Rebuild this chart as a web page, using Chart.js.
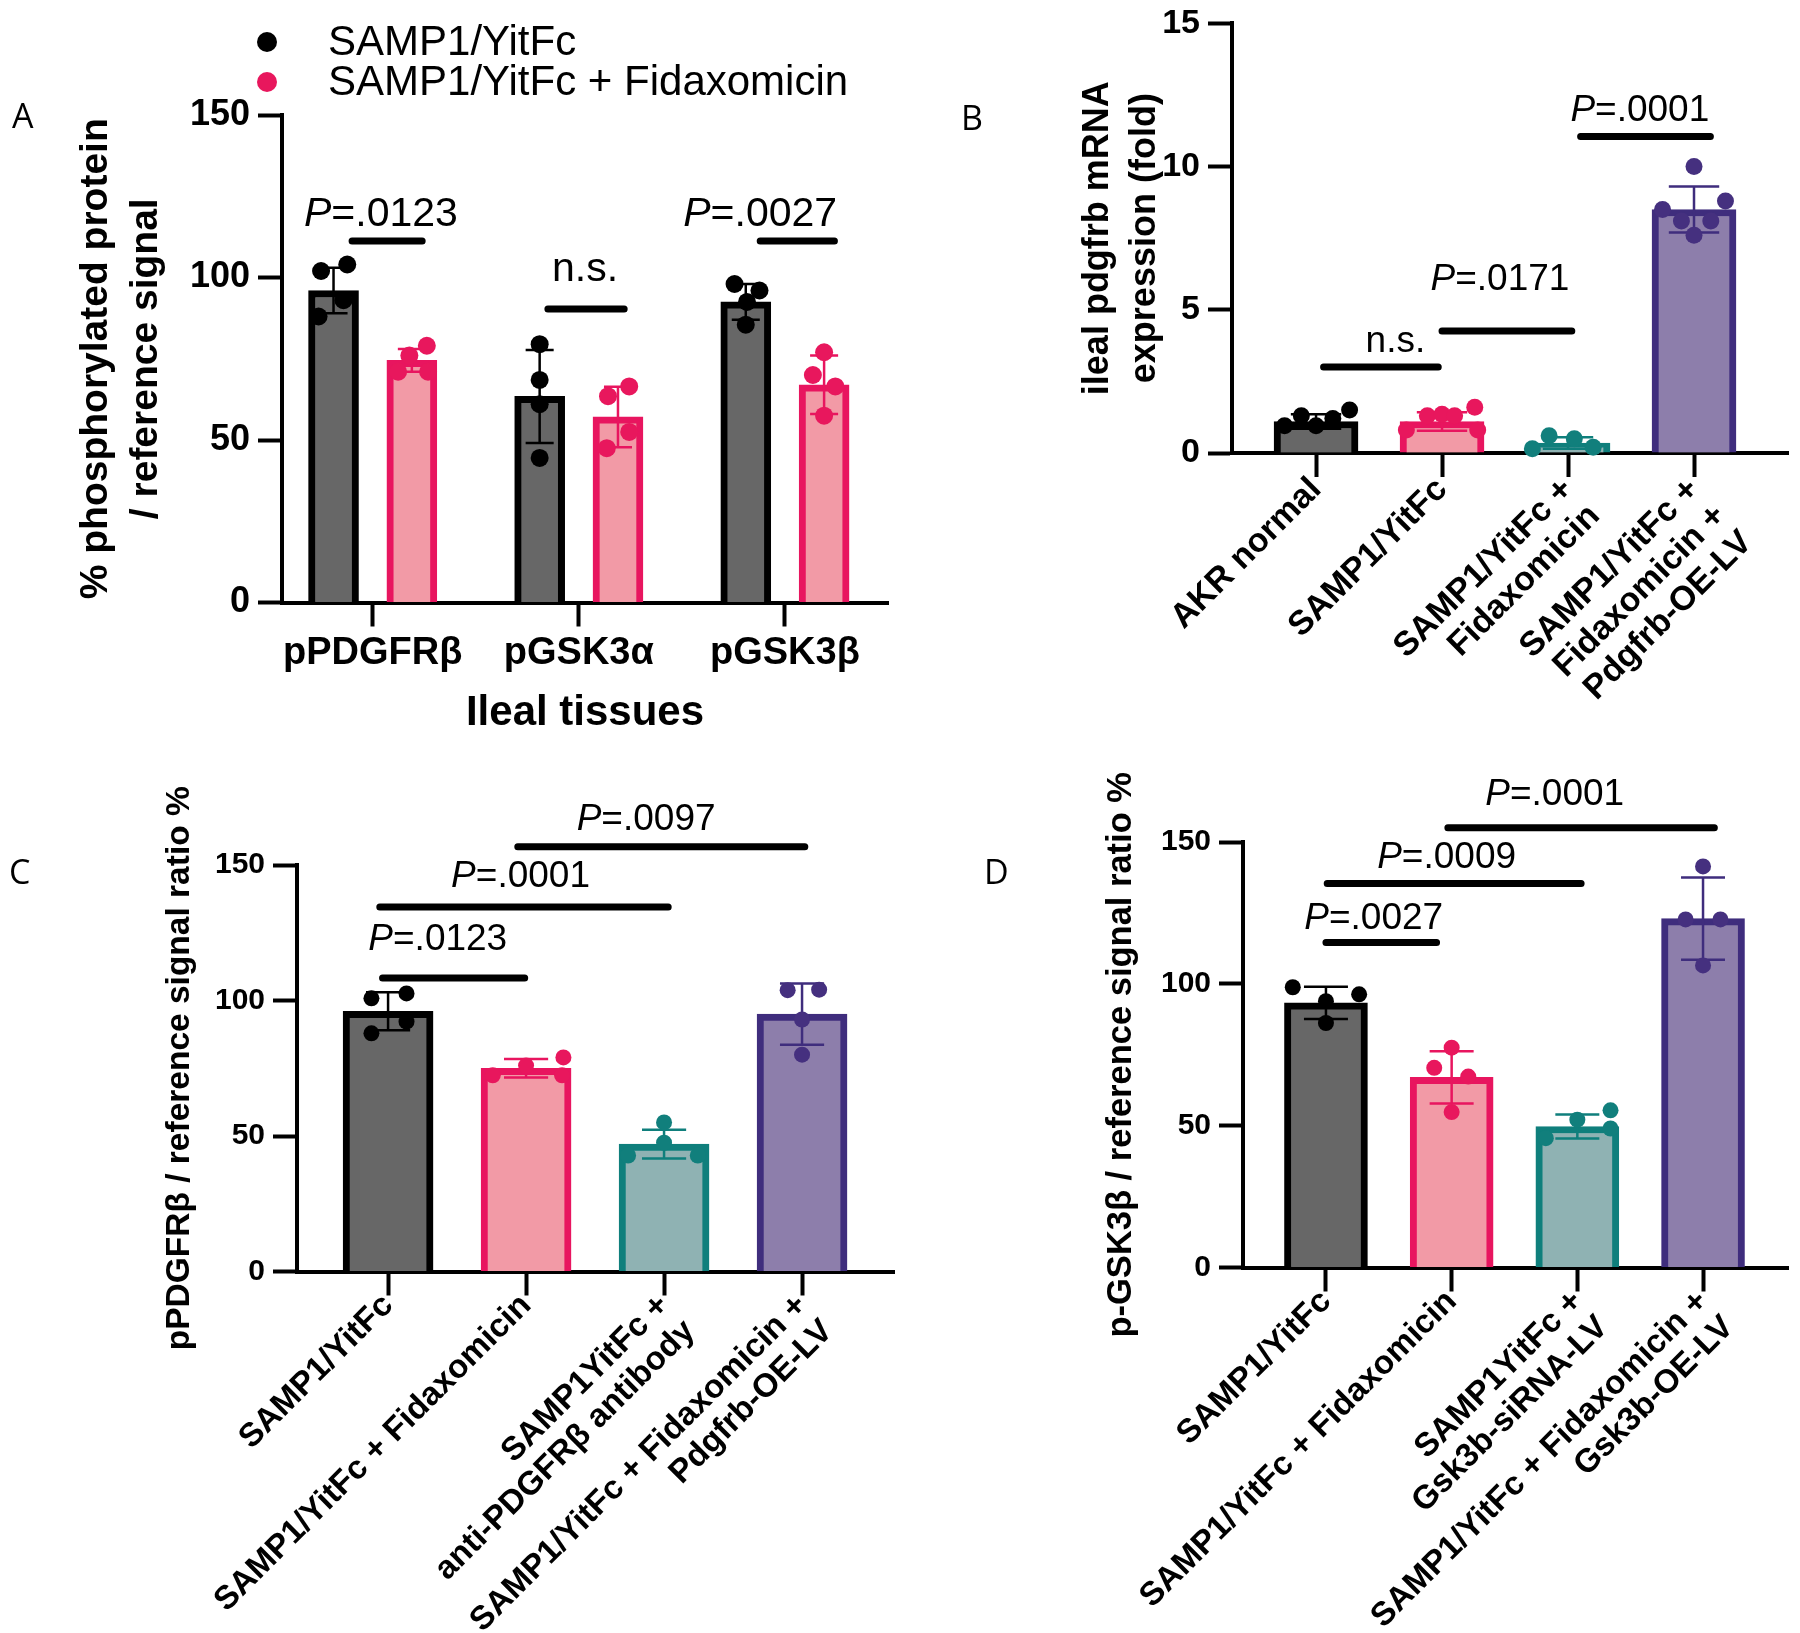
<!DOCTYPE html>
<html>
<head>
<meta charset="utf-8">
<script src="https://cdn.jsdelivr.net/npm/chart.js@4.4.1/dist/chart.umd.min.js"></script>
<style>
  html, body { margin: 0; padding: 0; background: #fff; }
  #wrap { position: relative; width: 1800px; height: 1633px; }
  #wrap canvas { position: absolute; left: 0; top: 0; }
</style>
</head>
<body>
<div id="wrap">
  <canvas id="chartA" width="1800" height="1633"></canvas>
  <canvas id="chartB" width="1800" height="1633"></canvas>
  <canvas id="chartC" width="1800" height="1633"></canvas>
  <canvas id="chartD" width="1800" height="1633"></canvas>
</div>
<script>
// ---- Panel A: two series per tissue ----
const aCats = ['pPDGFRβ', 'pGSK3α', 'pGSK3β'];
const aSeries = ['SAMP1/YitFc', 'SAMP1/YitFc + Fidaxomicin'];
const aMeanCtl = [96, 63.4, 92.5];
const aMeanFdx = [74.5, 57.1, 67];
const aSdCtl = [7, 14.3, 5.5];
const aSdFdx = [3.5, 9.3, 9];
const aPtsCtl = [[102, 104, 93, 88], [79.5, 68.5, 61, 44.5], [98, 96, 92.5, 85.5]];
const aPtsFdx = [[76, 79, 71, 71], [66.5, 52.5, 47.5, 63.5], [77, 70, 66.5, 57.5]];
const aJitCtl = [[-0.5, 0.55, 0.4, -0.6], [0, 0, 0, 0], [-0.45, 0.55, 0.05, 0]];
const aJitFdx = [[-0.1, 0.6, -0.55, 0.65], [0.45, 0.45, -0.45, -0.4], [0, -0.45, 0.45, 0]];
const aSigLines = [[-0.1, 0.24, 111.2], [0.85, 1.22, 90.3], [1.88, 2.24, 111.2]];
const aSigText = ['P=.0123', 'n.s.', 'P=.0027'];
const aSigPos = [[0.04, 115.7], [1.03, 99], [1.88, 115.7]];

// ---- Panel B ----
const bCats = ['AKR normal', 'SAMP1/YitFc', ['SAMP1/YitFc +', 'Fidaxomicin'],
  ['SAMP1/YitFc +', 'Fidaxomicin +', 'Pdgfrb-OE-LV']];
const bMean = [1.1, 1.1, 0.35, 8.5];
const bSd = [0.25, 0.32, 0.2, 0.8];
const bPts = [[0.95, 1.3, 0.95, 1.2, 1.5], [0.8, 1.3, 1.35, 1.3, 0.8, 1.6],
  [0.6, 0.5, 0.15, 0.2], [10.0, 8.8, 8.5, 8.1, 8.1, 7.6]];
const bJit = [[-0.75, -0.35, 0, 0.4, 0.8], [-0.85, -0.35, 0, 0.3, 0.85, 0.78],
  [-0.45, 0.15, -0.85, 0.6], [0, 0.75, -0.75, -0.3, 0.4, 0]];
const bSigLines = [[0.06, 0.97, 3.0], [1.0, 2.03, 4.26], [2.1, 3.13, 11.05]];
const bSigText = ['n.s.', 'P=.0171', 'P=.0001'];
const bSigPos = [[0.63, 3.54], [1.46, 5.7], [2.57, 11.6]];

// ---- Panel C ----
const cCats = ['SAMP1/YitFc', 'SAMP1/YitFc + Fidaxomicin', ['SAMP1YitFc +', 'anti-PDGFRβ antibody'],
  ['SAMP1/YitFc + Fidaxomicin +', 'Pdgfrb-OE-LV']];
const cMean = [96, 75, 47, 95];
const cSd = [7, 3.4, 5.3, 11.3];
const cPts = [[100.8, 102.6, 92.2, 87.9], [79, 76, 72.4, 72.4], [55, 47.5, 42.8, 42.8], [103.8, 104, 93, 80]];
const cJit = [[-0.37, 0.41, 0.41, -0.37], [0.83, 0, -0.74, 0.8], [0, 0, -0.8, 0.75], [-0.32, 0.38, 0, 0]];
const cSigLines = [[-0.04, 0.99, 108.3], [-0.06, 2.03, 134.5], [0.94, 3.02, 156.7]];
const cSigText = ['P=.0123', 'P=.0001', 'P=.0097'];
const cSigPos = [[0.36, 118.6], [0.96, 142], [1.87, 163]];

// ---- Panel D ----
const dCats = ['SAMP1/YitFc', 'SAMP1/YitFc + Fidaxomicin', ['SAMP1YitFc +', 'Gsk3b-siRNA-LV'],
  ['SAMP1/YitFc + Fidaxomicin +', 'Gsk3b-OE-LV']];
const dMean = [93.3, 67, 49.7, 123];
const dSd = [5.7, 9.2, 4.2, 14.5];
const dPts = [[98.8, 93.9, 96.3, 86.2], [77.5, 70.4, 67.3, 54.8], [55.4, 52.1, 49, 45.6], [141.4, 122.7, 122.7, 106.5]];
const dJit = [[-0.8, 0, 0.8, 0], [0, -0.42, 0.4, 0], [0.8, 0, 0.8, -0.76], [0, -0.42, 0.42, 0]];
const dSigLines = [[0.0, 0.88, 114.6], [0.01, 2.03, 135.4], [0.97, 3.09, 155]];
const dSigText = ['P=.0027', 'P=.0009', 'P=.0001'];
const dSigPos = [[0.38, 119.5], [0.96, 141], [1.82, 163]];

// colours
const FILLS = ['#676767', '#f29aa6', '#8fb2b3', '#8d7eab'];
const BORDERS = ['#000000', '#e8155f', '#0f7f7c', '#3f2d7d'];
const DOTS = ['#000000', '#e8175d', '#117f7c', '#45307f'];

const FONT = "'Liberation Sans', Arial, Helvetica, sans-serif";
Chart.defaults.font.family = FONT;
Chart.defaults.color = '#000';

function errorBarData(x, mean, sd, cap) {
  const lo = mean - sd, hi = mean + sd;
  return [
    {x, y: lo}, {x, y: hi}, {x, y: null},
    {x: x - cap, y: hi}, {x: x + cap, y: hi}, {x, y: null},
    {x: x - cap, y: lo}, {x: x + cap, y: lo}
  ];
}

function sigData(lines) {
  const out = [];
  lines.forEach(([a, b, y]) => { out.push({x: a, y}, {x: b, y}, {x: a, y: null}); });
  return out;
}

function drawPText(ctx, str, cx, by, size) {
  let head = '', rest = str;
  if (str.startsWith('P')) { head = 'P'; rest = str.slice(1); }
  ctx.font = `italic ${size}px ${FONT}`;
  const wh = ctx.measureText(head).width;
  ctx.font = `${size}px ${FONT}`;
  const wr = ctx.measureText(rest).width;
  const x0 = cx - (wh + wr) / 2;
  ctx.textAlign = 'left';
  ctx.textBaseline = 'alphabetic';
  ctx.font = `italic ${size}px ${FONT}`;
  ctx.fillText(head, x0, by);
  ctx.font = `${size}px ${FONT}`;
  ctx.fillText(rest, x0 + wh, by);
}

function drawLetter(ctx, letter, x, y) {
  ctx.font = `34px 'Open Sans', ${FONT}`;
  ctx.textAlign = 'left';
  ctx.textBaseline = 'alphabetic';
  ctx.fillStyle = '#000';
  ctx.fillText(letter, x, y);
}

function buildPanel(id, p) {
  const ds = [];
  ds.push({
    type: 'bar',
    data: p.barX.map((x, i) => ({x, y: p.means[i]})),
    backgroundColor: p.fills, borderColor: p.borders,
    borderWidth: 7, borderSkipped: 'start',
    grouped: false, maxBarThickness: p.barPx,
    categoryPercentage: 1, barPercentage: 1, order: 3
  });
  p.barX.forEach((x, i) => {
    ds.push({
      type: 'line', data: errorBarData(x, p.means[i], p.sds[i], p.cap),
      borderColor: p.borders[i], borderWidth: 2.5, pointRadius: 0,
      spanGaps: false, tension: 0, fill: false, order: 2
    });
    ds.push({
      type: 'scatter',
      data: p.pts[i].map((v, j) => ({x: x + p.jit[i][j] * p.half, y: v})),
      pointRadius: p.r, pointBackgroundColor: p.dots[i], backgroundColor: p.dots[i],
      pointBorderWidth: 0, clip: false, order: 1
    });
  });
  ds.push({
    type: 'line', data: sigData(p.sigLines), borderColor: '#000', borderWidth: 7,
    borderCapStyle: 'round', pointRadius: 0, spanGaps: false, clip: false, fill: false, order: 0
  });

  const annot = {
    id: 'annot' + id,
    afterDraw(chart) {
      const {ctx, scales: {x, y}} = chart;
      ctx.save();
      ctx.fillStyle = '#000';
      p.sigText.forEach((t, i) => {
        drawPText(ctx, t, x.getPixelForValue(p.sigPos[i][0]), y.getPixelForValue(p.sigPos[i][1]), p.pFont);
      });
      if (p.extraDraw) p.extraDraw(ctx);
      ctx.restore();
    }
  };

  const labels = p.labels;
  new Chart(document.getElementById(id), {
    type: 'bar',
    data: {datasets: ds},
    options: {
      responsive: false, animation: false, events: [],
      layout: {padding: p.pad},
      plugins: {legend: {display: false}, tooltip: {enabled: false}},
      scales: {
        x: {
          type: 'linear', position: 'bottom', min: p.xMin, max: p.xMax,
          offset: false, z: 1,
          afterBuildTicks: s => { s.ticks = labels.map((_, i) => ({value: i})); },
          afterFit: s => { s.height = p.xH; },
          ticks: {
            autoSkip: false, maxRotation: p.xRot, minRotation: p.xRot, padding: p.xTickPad,
            font: {size: p.xTickFont, weight: 'bold', lineHeight: 1.1}, color: '#000',
            callback: v => labels[v]
          },
          grid: {offset: false, drawOnChartArea: false, drawTicks: true, tickLength: 24, tickWidth: 4, tickColor: '#000'},
          border: {display: true, width: 4, color: '#000'},
          title: p.xTitle ? {display: true, text: p.xTitle, color: '#000',
            font: {size: 42, weight: 'bold'}, padding: 0} : {display: false}
        },
        y: {
          min: 0, max: p.yMax, z: 1,
          afterFit: s => { s.width = p.yW; },
          ticks: {stepSize: p.yStep, padding: 8, color: '#000',
            font: {size: p.yTickFont, weight: 'bold', lineHeight: 0.9}},
          grid: {drawOnChartArea: false, drawTicks: true, tickLength: 24, tickWidth: 4, tickColor: '#000'},
          border: {display: true, width: 4, color: '#000'},
          title: {display: true, text: p.yTitle, color: '#000',
            font: {size: p.yTitleFont, weight: 'bold', lineHeight: p.yTitleLH},
            padding: {top: p.yTitlePad, bottom: 0}}
        }
      }
    },
    plugins: [annot]
  });
}

// Panel A: interleave the two series
const aBarX = [], aMeans = [], aSds = [], aPts = [], aJit = [], aFills = [], aBorders = [], aDots = [];
aCats.forEach((_, i) => {
  aBarX.push(i - 0.19, i + 0.19);
  aMeans.push(aMeanCtl[i], aMeanFdx[i]);
  aSds.push(aSdCtl[i], aSdFdx[i]);
  aPts.push(aPtsCtl[i], aPtsFdx[i]);
  aJit.push(aJitCtl[i], aJitFdx[i]);
  aFills.push(FILLS[0], FILLS[1]);
  aBorders.push(BORDERS[0], BORDERS[1]);
  aDots.push(DOTS[0], DOTS[1]);
});

buildPanel('chartA', {
  labels: aCats, xMin: -0.44, xMax: 2.5, yMax: 150, yStep: 50,
  barX: aBarX, means: aMeans, sds: aSds, pts: aPts, jit: aJit,
  fills: aFills, borders: aBorders, dots: aDots,
  barPx: 50, half: 0.121, cap: 0.068, r: 9,
  sigLines: aSigLines, sigText: aSigText, sigPos: aSigPos, pFont: 41,
  pad: {left: 58, top: 115, right: 912, bottom: 894.5}, yW: 224, xH: 136,
  yTitle: ['% phosphorylated protein', '/ reference signal'], yTitleFont: 39, yTitleLH: 1.28, yTitlePad: 13,
  yTickFont: 36, xTickFont: 38, xRot: 0, xTickPad: 6, xTitle: 'Ileal tissues',
  extraDraw: ctx => {
    drawLetter(ctx, 'A', 12, 128);
    const rows = [[42, 55], [82, 95]];
    aSeries.forEach((s, i) => {
      ctx.fillStyle = DOTS[i];
      ctx.beginPath();
      ctx.arc(267, rows[i][0], 10, 0, Math.PI * 2);
      ctx.fill();
      ctx.fillStyle = '#000';
      ctx.font = `42px ${FONT}`;
      ctx.textAlign = 'left';
      ctx.textBaseline = 'alphabetic';
      ctx.fillText(s, 328, rows[i][1]);
    });
  }
});

buildPanel('chartB', {
  labels: bCats, xMin: -0.667, xMax: 3.75, yMax: 15, yStep: 5,
  barX: [0, 1, 2, 3], means: bMean, sds: bSd, pts: bPts, jit: bJit,
  fills: FILLS, borders: BORDERS, dots: DOTS,
  barPx: 84, half: 0.333, cap: 0.2, r: 8.5,
  sigLines: bSigLines, sigText: bSigText, sigPos: bSigPos, pFont: 37,
  pad: {left: 1060, top: 17, right: 11.5, bottom: 0}, yW: 172, xH: 1180,
  yTitle: ['ileal pdgfrb mRNA', 'expression (fold)'], yTitleFont: 36, yTitleLH: 1.3, yTitlePad: 15,
  yTickFont: 34, xTickFont: 34, xRot: 45, xTickPad: -6,
  extraDraw: ctx => drawLetter(ctx, 'B', 961, 130)
});

buildPanel('chartC', {
  labels: cCats, xMin: -0.66, xMax: 3.67, yMax: 150, yStep: 50,
  barX: [0, 1, 2, 3], means: cMean, sds: cSd, pts: cPts, jit: cJit,
  fills: FILLS, borders: BORDERS, dots: DOTS,
  barPx: 90, half: 0.326, cap: 0.16, r: 8,
  sigLines: cSigLines, sigText: cSigText, sigPos: cSigPos, pFont: 37,
  pad: {left: 140, top: 865, right: 905.5, bottom: 0}, yW: 157, xH: 361.5,
  yTitle: 'pPDGFRβ / reference signal ratio %', yTitleFont: 33.5, yTitleLH: 1.2, yTitlePad: 20,
  yTickFont: 30, xTickFont: 33, xRot: 45, xTickPad: -8,
  extraDraw: ctx => drawLetter(ctx, 'C', 9, 884)
});

buildPanel('chartD', {
  labels: dCats, xMin: -0.66, xMax: 3.68, yMax: 150, yStep: 50,
  barX: [0, 1, 2, 3], means: dMean, sds: dSd, pts: dPts, jit: dJit,
  fills: FILLS, borders: BORDERS, dots: DOTS,
  barPx: 83, half: 0.33, cap: 0.175, r: 8,
  sigLines: dSigLines, sigText: dSigText, sigPos: dSigPos, pFont: 37,
  pad: {left: 1080, top: 842, right: 11.5, bottom: 0}, yW: 163, xH: 365.5,
  yTitle: 'p-GSK3β / reference signal ratio %', yTitleFont: 34.5, yTitleLH: 1.2, yTitlePad: 21,
  yTickFont: 30, xTickFont: 33, xRot: 45, xTickPad: -8,
  extraDraw: ctx => drawLetter(ctx, 'D', 984, 884)
});
</script>
</body>
</html>
